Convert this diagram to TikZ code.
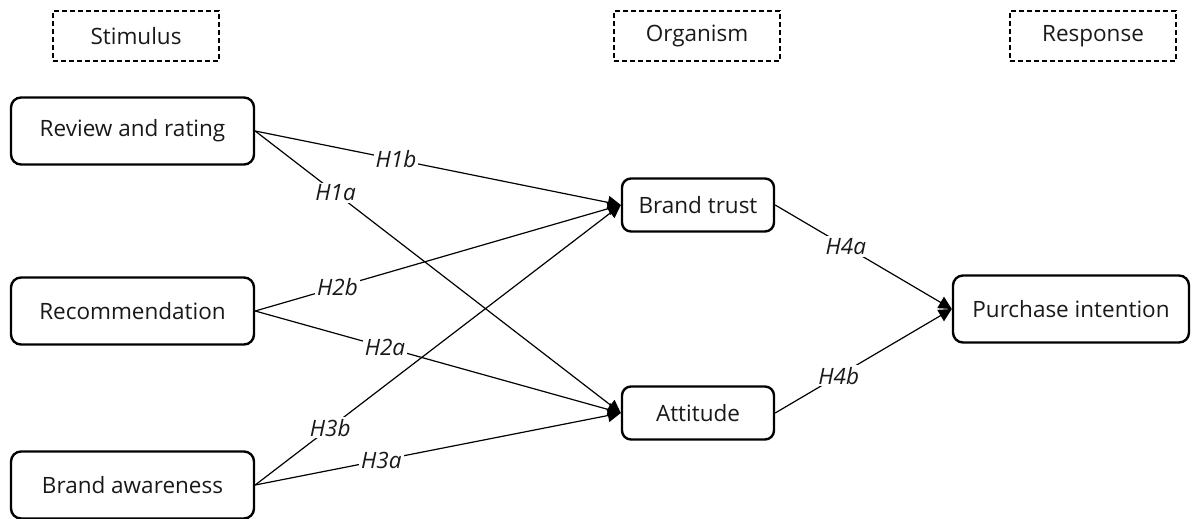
\documentclass[tikz,border=0pt]{standalone}
\usepackage{fontspec}
\setmainfont{Open Sans}
\usetikzlibrary{arrows.meta}
\begin{document}
\begin{tikzpicture}[x=1pt,y=-1pt,
  every node/.style={font=\fontsize{22.5}{27}\selectfont, text=black!90},
  phase/.style={draw, line width=1.8pt, dash pattern=on 5pt off 3pt, minimum width=166pt, minimum height=50pt, inner sep=0pt},
  var/.style={draw, line width=2.4pt, rounded corners=10pt, minimum height=67pt, inner sep=0pt},
  med/.style={draw, line width=2.4pt, rounded corners=9pt, minimum width=152pt, minimum height=53pt, inner sep=0pt},
  link/.style={line width=1.2pt, -{Triangle[length=13pt,width=13pt]}},
  hyp/.style={fill=white, inner sep=2pt, font=\fontsize{22.5}{27}\selectfont\itshape}]
\useasboundingbox (0,0) rectangle (1192,519);
\node[phase] (stim) at (136,36) {Stimulus};
\node[phase] (org) at (697,36) {Organism};
\node[phase] (resp) at (1093,36) {Response};
\node[var, minimum width=243pt] (rev) at (132.5,131) {Review and rating};
\node[var, minimum width=243pt] (rec) at (132.5,311) {Recommendation};
\node[var, minimum width=243pt] (aw) at (132.5,485) {Brand awareness};
\node[med] (bt) at (698,205) {Brand trust};
\node[med] (att) at (698,413) {Attitude};
\node[var, minimum width=236pt] (pi) at (1071,309) {Purchase intention};
\draw[link] (rev.east) -- (bt.west) node[hyp, pos=0.385] {H1b};
\draw[link] (rev.east) -- (att.west) node[hyp, pos=0.22] {H1a};
\draw[link] (rec.east) -- (bt.west) node[hyp, pos=0.225] {H2b};
\draw[link] (rec.east) -- (att.west) node[hyp, pos=0.355] {H2a};
\draw[link] (aw.east) -- (bt.west) node[hyp, pos=0.205] {H3b};
\draw[link] (aw.east) -- (att.west) node[hyp, pos=0.345] {H3a};
\draw[link] (bt.east) -- (pi.west) node[hyp, pos=0.4] {H4a};
\draw[link] (att.east) -- (pi.west) node[hyp, pos=0.36] {H4b};
\end{tikzpicture}
\end{document}
